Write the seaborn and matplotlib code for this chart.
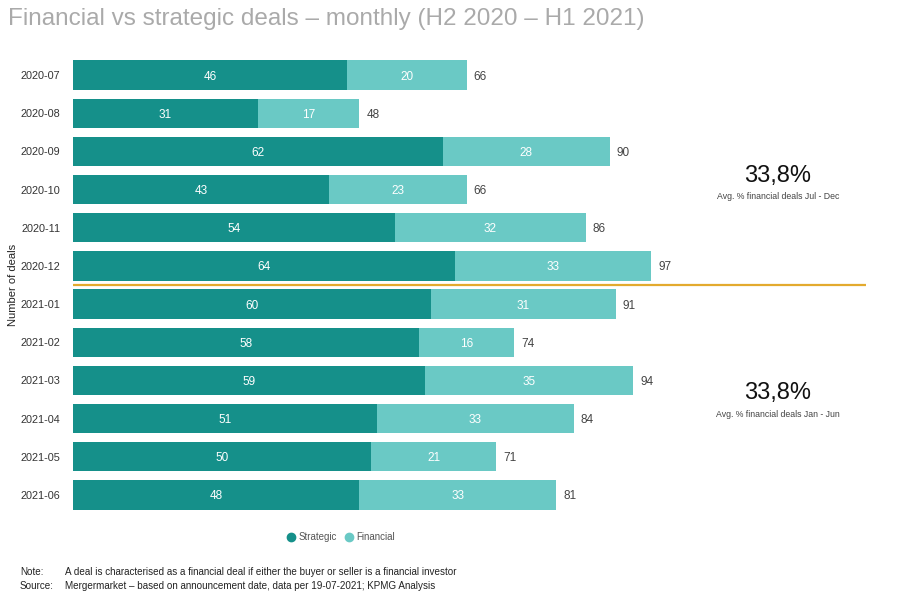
import pandas as pd
import matplotlib.pyplot as plt
import seaborn as sns
from matplotlib.lines import Line2D

months = ["2020-07", "2020-08", "2020-09", "2020-10", "2020-11", "2020-12",
          "2021-01", "2021-02", "2021-03", "2021-04", "2021-05", "2021-06"]
strategic = [46, 31, 62, 43, 54, 64, 60, 58, 59, 51, 50, 48]
financial = [20, 17, 28, 23, 32, 33, 31, 16, 35, 33, 21, 33]
totals = [s + f for s, f in zip(strategic, financial)]

avg_h2 = "33,8%"
avg_h1 = "33,8%"

c_strat = "#15908A"
c_fin = "#6AC9C5"
c_gold = "#E3AA2E"

sns.set_theme(style="white")
plt.rcParams["font.family"] = ["Liberation Sans", "DejaVu Sans"]

df = pd.DataFrame({"Month": months, "Strategic": strategic,
                   "Financial": financial, "Total": totals})

fig = plt.figure(figsize=(9, 6.02), dpi=100)
ax = fig.add_axes([0.0811, 0.1462, 0.8811, 0.7608])

sns.barplot(data=df, x="Total", y="Month", color=c_fin, width=0.77,
            saturation=1, linewidth=0, ax=ax)
sns.barplot(data=df, x="Strategic", y="Month", color=c_strat, width=0.77,
            saturation=1, linewidth=0, ax=ax)

for i, (s, f, t) in enumerate(zip(strategic, financial, totals)):
    ax.text(s / 2, i, str(s), ha="center", va="center_baseline", color="white",
            fontsize=8.5)
    ax.text(s + f / 2, i, str(f), ha="center", va="center_baseline", color="white",
            fontsize=8.5)
    ax.text(t + 1.2, i, str(t), ha="left", va="center_baseline", color="#444444",
            fontsize=8.5)

ax.axhline(5.5, color=c_gold, lw=1.6)

ax.set_xlim(0, 133)
ax.set_ylim(11.5, -0.5)
ax.set_xticks([])
ax.set_xlabel("")
ax.set_ylabel("")
ax.tick_params(axis="y", length=0, pad=9, labelsize=7.8, labelcolor="#333333")
sns.despine(ax=ax, left=True, bottom=True)

fig.text(0.014, 0.527, "Number of deals", rotation=90, ha="center", va="center",
         fontsize=8, color="#222222")

# half-year averages
fig.text(0.8644, 0.708, avg_h2, ha="center", va="center", fontsize=17,
         color="#111111")
fig.text(0.8644, 0.673, "Avg. % financial deals Jul - Dec", ha="center",
         va="center", fontsize=6.3, color="#444444")
fig.text(0.8644, 0.348, avg_h1, ha="center", va="center", fontsize=17,
         color="#111111")
fig.text(0.8644, 0.312, "Avg. % financial deals Jan - Jun", ha="center",
         va="center", fontsize=6.3, color="#444444")

fig.text(0.009, 0.968, "Financial vs strategic deals \u2013 monthly (H2 2020 \u2013 H1 2021)",
         ha="left", va="center", fontsize=17.5, color="#AAAAAA")

handles = [Line2D([], [], marker="o", ls="", color=c_strat, markersize=6),
           Line2D([], [], marker="o", ls="", color=c_fin, markersize=6)]
fig.legend(handles, ["Strategic", "Financial"], loc="center",
           bbox_to_anchor=(0.376, 0.108), ncol=2, frameon=False,
           fontsize=7, handletextpad=-0.2, columnspacing=0.2,
           labelcolor="#555555")

fig.text(0.022, 0.05, "Note:", fontsize=7.1, color="#222222", va="center")
fig.text(0.072, 0.05, "A deal is characterised as a financial deal if either the buyer or seller is a financial investor",
         fontsize=7.1, color="#222222", va="center")
fig.text(0.022, 0.027, "Source:", fontsize=7.1, color="#222222", va="center")
fig.text(0.072, 0.027, "Mergermarket \u2013 based on announcement date, data per 19-07-2021; KPMG Analysis",
         fontsize=7.1, color="#222222", va="center")

fig.savefig("out.png", dpi=100)
